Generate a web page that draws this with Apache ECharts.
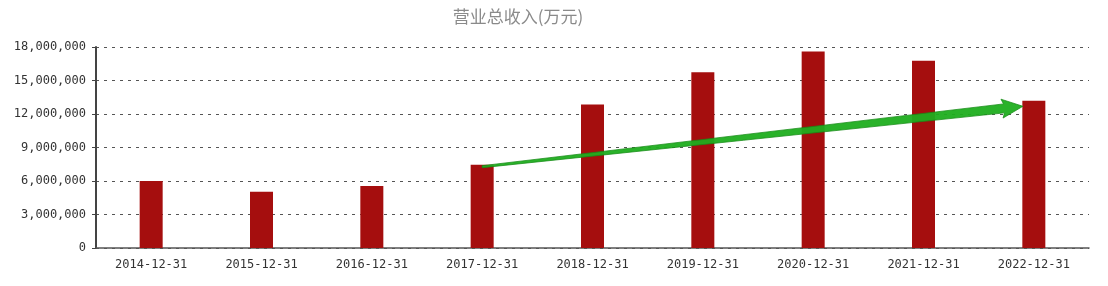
<!DOCTYPE html>
<html>
<head>
<meta charset="utf-8">
<script src="https://cdn.jsdelivr.net/npm/echarts@6/dist/echarts.min.js"></script>
<style>html,body{margin:0;padding:0;background:#fff;}#c{width:1108px;height:286px;}</style>
</head>
<body>
<div id="c"></div>
<script>
var categories = ['2014-12-31','2015-12-31','2016-12-31','2017-12-31','2018-12-31','2019-12-31','2020-12-31','2021-12-31','2022-12-31'];
var revenue = [6000000, 5040000, 5550000, 7460000, 12860000, 15730000, 17600000, 16770000, 13190000];
var yTicks = [0, 3000000, 6000000, 9000000, 12000000, 15000000, 18000000];
// trend arrow from (category, value) to (category, value)
var arrowStart = ['2017-12-31', 7280000];
var arrowEnd = ['2022-12-31', 12800000];

var chart = echarts.init(document.getElementById('c'));
function fmt(v){ return String(v).replace(/\B(?=(\d{3})+(?!\d))/g, ','); }
chart.setOption({
  backgroundColor: '#fff',
  animation: false,
  title: {
    text: '营业总收入(万元)',
    left: 513, top: 3, textAlign: 'center',
    textStyle: { fontFamily: 'Noto Sans CJK SC', fontSize: 17, fontWeight: 'normal', color: '#8a8a8a' }
  },
  grid: { left: 96, right: 19, top: 47, bottom: 38 },
  xAxis: {
    type: 'category', data: categories,
    axisLine: { show: true, lineStyle: { color: '#555', width: 1.5 } },
    axisTick: { show: false },
    axisLabel: { fontFamily: 'DejaVu Sans Mono', fontSize: 12, color: '#333', margin: 11 }
  },
  yAxis: {
    type: 'value', max: yTicks[yTicks.length-1], interval: 3000000,
    axisLine: { show: true, lineStyle: { color: '#444', width: 2 } },
    axisTick: { show: true, length: 4, lineStyle: { color: '#444', width: 1 } },
    axisLabel: { fontFamily: 'DejaVu Sans Mono', fontSize: 12, color: '#333', margin: 10, formatter: fmt },
    splitLine: { show: true, lineStyle: { color: '#555', type: [3, 5], width: 1 } }
  },
  series: [{
    type: 'bar', data: revenue, barWidth: 23,
    itemStyle: { color: '#a50e0e' }
  }, {
    type: 'custom', data: [[arrowStart[0], arrowStart[1], arrowEnd[0], arrowEnd[1]]],
    encode: { x: [0, 2], y: [1, 3] }, z: 5, silent: true,
    renderItem: function (params, api) {
      var p0 = api.coord([api.value(0), api.value(1)]);
      var p1 = api.coord([api.value(2), api.value(3)]);
      var tipGap = 11;
      var dx = p1[0]-p0[0], dy = p1[1]-p0[1];
      var L = Math.sqrt(dx*dx+dy*dy);
      var ux = dx/L, uy = dy/L, nx = -uy, ny = ux;
      var tip = [p1[0]-ux*tipGap, p1[1]-uy*tipGap];
      var headLen = 19, headHalf = 9.5, w0 = 1, w1 = 4.5;
      var bx = tip[0]-ux*headLen, by = tip[1]-uy*headLen;
      var pts = [
        [p0[0]+nx*w0, p0[1]+ny*w0],
        [bx+nx*w1, by+ny*w1],
        [bx+nx*headHalf - ux*2, by+ny*headHalf - uy*2],
        [tip[0], tip[1]],
        [bx-nx*headHalf - ux*2, by-ny*headHalf - uy*2],
        [bx-nx*w1, by-ny*w1],
        [p0[0]-nx*w0, p0[1]-ny*w0]
      ];
      return {
        type: 'polygon', shape: { points: pts },
        style: { fill: '#1fae1f', stroke: '#178c17', lineWidth: 0.8, opacity: 0.95 }
      };
    }
  }]
});
</script>
</body>
</html>
